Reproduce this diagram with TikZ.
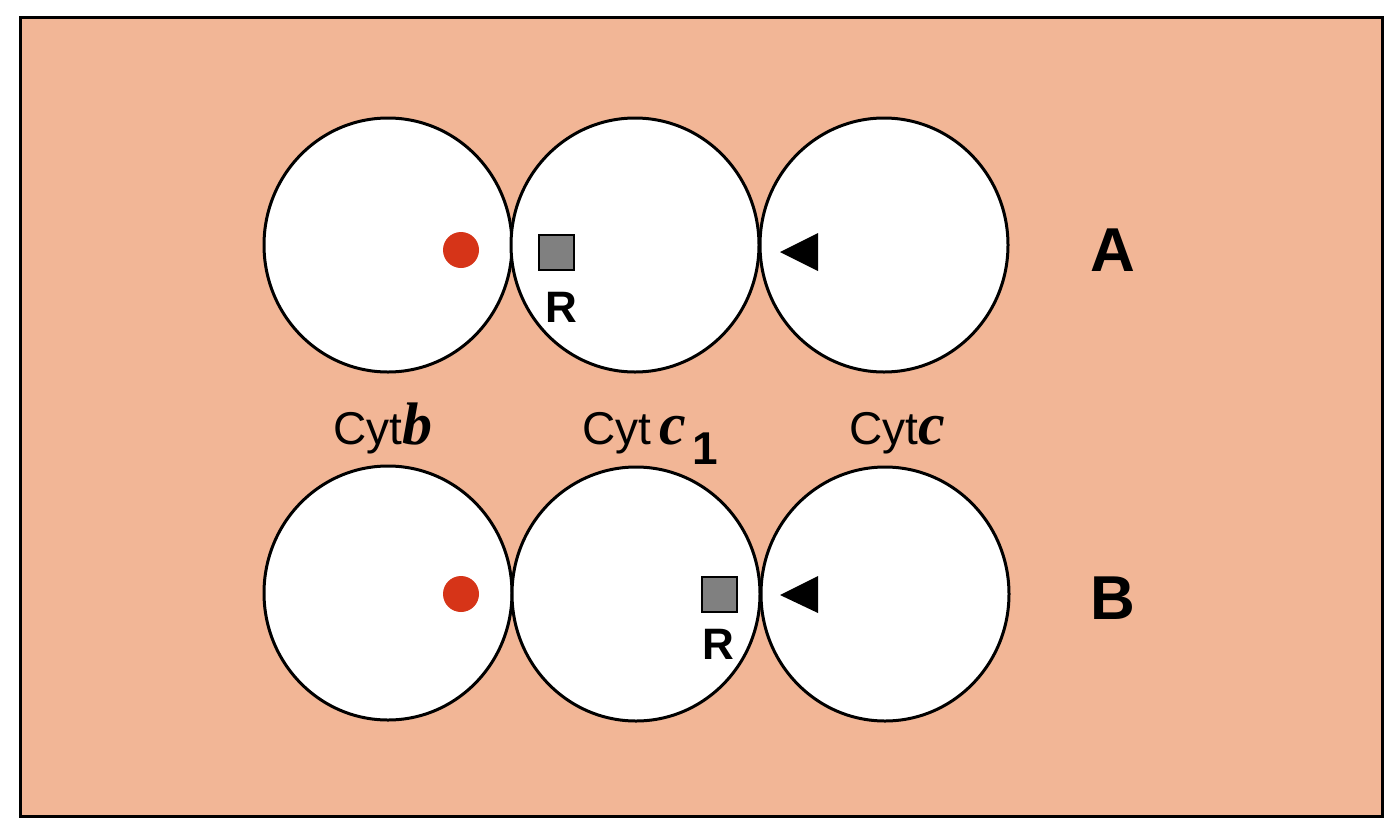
\documentclass[tikz,border=0pt]{standalone}
\usepackage{fontspec}
\setmainfont{Liberation Sans}
\newfontfamily\serifbi{Liberation Serif}
\usetikzlibrary{shapes.geometric}
\definecolor{bgpeach}{RGB}{242,182,150}
\definecolor{dotred}{RGB}{214,52,24}
\definecolor{sqgray}{RGB}{128,128,128}
\tikzset{
  cell/.style={ellipse, draw=black, fill=white, line width=3pt, minimum width=248pt, minimum height=254pt, inner sep=0pt},
  reddot/.style={circle, fill=dotred, minimum size=36pt, inner sep=0pt},
  rsq/.style={rectangle, draw=black, fill=sqgray, line width=2pt, minimum size=35pt, inner sep=0pt},
  lbl/.style={font=\fontsize{46}{50}\selectfont, inner sep=0pt, anchor=base},
  rowlbl/.style={font=\fontsize{62}{66}\selectfont\bfseries, inner sep=0pt},
  rlbl/.style={font=\fontsize{44}{48}\selectfont\bfseries, inner sep=0pt},
}
\newcommand{\bi}[1]{{\serifbi\bfseries\itshape\fontsize{60}{64}\selectfont #1}}
\begin{document}
\begin{tikzpicture}[x=1pt,y=-1pt]
\useasboundingbox (0,0) rectangle (1393,836);
\fill[white] (0,0) rectangle (1393,836);
\draw[line width=3pt, fill=bgpeach] (20,17) rectangle (1382,816);
% row A
\node[cell] (a1) at (388,245) {};
\node[cell] (a2) at (635,245) {};
\node[cell] (a3) at (884,245) {};
\node[reddot] (ad) at (461,250) {};
\node[rsq] (as) at (556,252) {};
\node[rlbl] (ar) at (561,307) {R};
\fill (780,252) -- (818,233) -- (818,271) -- cycle;
\node[rowlbl] (la) at (1113,250) {A};
% labels
\node[lbl] (cb) at (383,444) {Cyt\bi{b}};
\node[lbl] (cc1) at (634,444) {Cyt\,\bi{c}};
\node[inner sep=0pt, font=\fontsize{46}{50}\selectfont\bfseries] (one) at (705,449) {1};
\node[lbl] (cc) at (897,444) {Cyt\bi{c}};
% row B
\node[cell] (b1) at (388,593) {};
\node[cell] (b2) at (636,594) {};
\node[cell] (b3) at (885,594) {};
\node[reddot] (bd) at (461,594) {};
\node[rsq] (bs) at (719,594) {};
\node[rlbl] (br) at (718,644) {R};
\fill (780,595) -- (818,576) -- (818,613) -- cycle;
\node[rowlbl] (lb) at (1113,598) {B};
\end{tikzpicture}
\end{document}
